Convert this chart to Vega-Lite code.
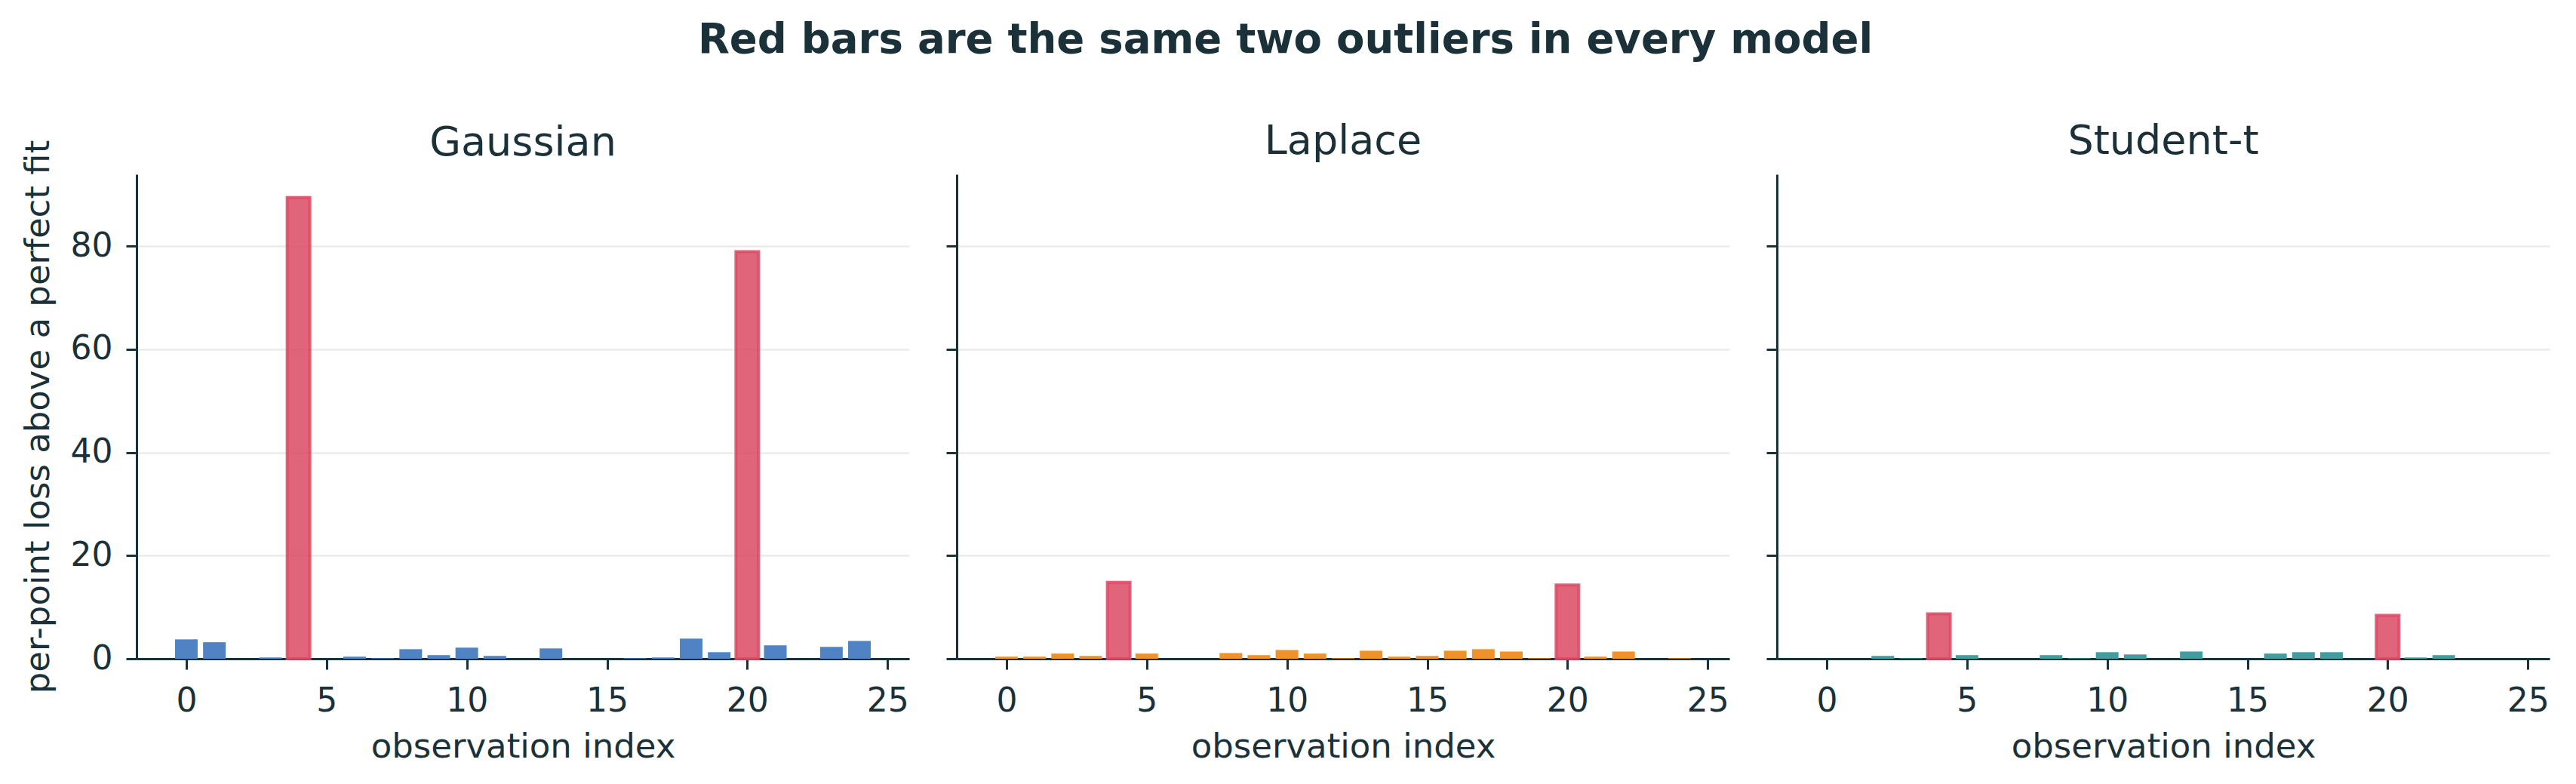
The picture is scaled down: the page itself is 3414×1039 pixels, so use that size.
{
  "$schema": "https://vega.github.io/schema/vega-lite/v6.json",
  "background": "white",
  "padding": {"left": 28, "top": 25, "right": 10, "bottom": 20},
  "bounds": "flush",
  "spacing": 63,
  "title": {
    "text": "Red bars are the same two outliers in every model",
    "font": "DejaVu Sans",
    "fontSize": 54.5,
    "fontWeight": "bold",
    "color": "#1b3139",
    "anchor": "middle",
    "offset": 80
  },
  "data": {
    "values": [
      {"model": "Gaussian", "idx": 0, "loss": 3.75, "outlier": false},
      {"model": "Gaussian", "idx": 1, "loss": 3.2, "outlier": false},
      {"model": "Gaussian", "idx": 2, "loss": 0, "outlier": false},
      {"model": "Gaussian", "idx": 3, "loss": 0.25, "outlier": false},
      {"model": "Gaussian", "idx": 4, "loss": 89.4, "outlier": true},
      {"model": "Gaussian", "idx": 5, "loss": 0, "outlier": false},
      {"model": "Gaussian", "idx": 6, "loss": 0.4, "outlier": false},
      {"model": "Gaussian", "idx": 7, "loss": 0.1, "outlier": false},
      {"model": "Gaussian", "idx": 8, "loss": 1.85, "outlier": false},
      {"model": "Gaussian", "idx": 9, "loss": 0.7, "outlier": false},
      {"model": "Gaussian", "idx": 10, "loss": 2.15, "outlier": false},
      {"model": "Gaussian", "idx": 11, "loss": 0.55, "outlier": false},
      {"model": "Gaussian", "idx": 12, "loss": 0, "outlier": false},
      {"model": "Gaussian", "idx": 13, "loss": 2.0, "outlier": false},
      {"model": "Gaussian", "idx": 14, "loss": 0, "outlier": false},
      {"model": "Gaussian", "idx": 15, "loss": 0, "outlier": false},
      {"model": "Gaussian", "idx": 16, "loss": 0.1, "outlier": false},
      {"model": "Gaussian", "idx": 17, "loss": 0.25, "outlier": false},
      {"model": "Gaussian", "idx": 18, "loss": 3.9, "outlier": false},
      {"model": "Gaussian", "idx": 19, "loss": 1.27, "outlier": false},
      {"model": "Gaussian", "idx": 20, "loss": 78.9, "outlier": true},
      {"model": "Gaussian", "idx": 21, "loss": 2.6, "outlier": false},
      {"model": "Gaussian", "idx": 22, "loss": 0, "outlier": false},
      {"model": "Gaussian", "idx": 23, "loss": 2.3, "outlier": false},
      {"model": "Gaussian", "idx": 24, "loss": 3.45, "outlier": false},
      {"model": "Laplace", "idx": 0, "loss": 0.4, "outlier": false},
      {"model": "Laplace", "idx": 1, "loss": 0.4, "outlier": false},
      {"model": "Laplace", "idx": 2, "loss": 1.0, "outlier": false},
      {"model": "Laplace", "idx": 3, "loss": 0.55, "outlier": false},
      {"model": "Laplace", "idx": 4, "loss": 14.8, "outlier": true},
      {"model": "Laplace", "idx": 5, "loss": 1.0, "outlier": false},
      {"model": "Laplace", "idx": 6, "loss": 0, "outlier": false},
      {"model": "Laplace", "idx": 7, "loss": 0, "outlier": false},
      {"model": "Laplace", "idx": 8, "loss": 1.1, "outlier": false},
      {"model": "Laplace", "idx": 9, "loss": 0.7, "outlier": false},
      {"model": "Laplace", "idx": 10, "loss": 1.7, "outlier": false},
      {"model": "Laplace", "idx": 11, "loss": 1.0, "outlier": false},
      {"model": "Laplace", "idx": 12, "loss": 0.1, "outlier": false},
      {"model": "Laplace", "idx": 13, "loss": 1.55, "outlier": false},
      {"model": "Laplace", "idx": 14, "loss": 0.4, "outlier": false},
      {"model": "Laplace", "idx": 15, "loss": 0.55, "outlier": false},
      {"model": "Laplace", "idx": 16, "loss": 1.55, "outlier": false},
      {"model": "Laplace", "idx": 17, "loss": 1.85, "outlier": false},
      {"model": "Laplace", "idx": 18, "loss": 1.4, "outlier": false},
      {"model": "Laplace", "idx": 19, "loss": 0.1, "outlier": false},
      {"model": "Laplace", "idx": 20, "loss": 14.3, "outlier": true},
      {"model": "Laplace", "idx": 21, "loss": 0.4, "outlier": false},
      {"model": "Laplace", "idx": 22, "loss": 1.4, "outlier": false},
      {"model": "Laplace", "idx": 23, "loss": 0, "outlier": false},
      {"model": "Laplace", "idx": 24, "loss": 0.1, "outlier": false},
      {"model": "Student-t", "idx": 0, "loss": 0, "outlier": false},
      {"model": "Student-t", "idx": 1, "loss": 0, "outlier": false},
      {"model": "Student-t", "idx": 2, "loss": 0.55, "outlier": false},
      {"model": "Student-t", "idx": 3, "loss": 0.1, "outlier": false},
      {"model": "Student-t", "idx": 4, "loss": 8.7, "outlier": true},
      {"model": "Student-t", "idx": 5, "loss": 0.7, "outlier": false},
      {"model": "Student-t", "idx": 6, "loss": 0, "outlier": false},
      {"model": "Student-t", "idx": 7, "loss": 0, "outlier": false},
      {"model": "Student-t", "idx": 8, "loss": 0.7, "outlier": false},
      {"model": "Student-t", "idx": 9, "loss": 0.1, "outlier": false},
      {"model": "Student-t", "idx": 10, "loss": 1.27, "outlier": false},
      {"model": "Student-t", "idx": 11, "loss": 0.83, "outlier": false},
      {"model": "Student-t", "idx": 12, "loss": 0, "outlier": false},
      {"model": "Student-t", "idx": 13, "loss": 1.4, "outlier": false},
      {"model": "Student-t", "idx": 14, "loss": 0, "outlier": false},
      {"model": "Student-t", "idx": 15, "loss": 0, "outlier": false},
      {"model": "Student-t", "idx": 16, "loss": 1.0, "outlier": false},
      {"model": "Student-t", "idx": 17, "loss": 1.27, "outlier": false},
      {"model": "Student-t", "idx": 18, "loss": 1.27, "outlier": false},
      {"model": "Student-t", "idx": 19, "loss": 0, "outlier": false},
      {"model": "Student-t", "idx": 20, "loss": 8.4, "outlier": true},
      {"model": "Student-t", "idx": 21, "loss": 0.25, "outlier": false},
      {"model": "Student-t", "idx": 22, "loss": 0.7, "outlier": false},
      {"model": "Student-t", "idx": 23, "loss": 0, "outlier": false},
      {"model": "Student-t", "idx": 24, "loss": 0, "outlier": false}
    ]
  },
  "config": {
    "font": "DejaVu Sans",
    "view": {"stroke": null},
    "title": {"font": "DejaVu Sans", "color": "#1b3139"},
    "axis": {
      "domainColor": "#1b3139",
      "domainWidth": 3,
      "tickColor": "#1b3139",
      "tickWidth": 3,
      "tickSize": 14,
      "labelFont": "DejaVu Sans",
      "labelFontSize": 44,
      "labelColor": "#1b3139",
      "titleFont": "DejaVu Sans",
      "titleFontSize": 45,
      "titleFontWeight": "normal",
      "titleColor": "#1b3139",
      "gridColor": "#ebebeb",
      "gridWidth": 2.5
    }
  },
  "hconcat": [
    {
      "title": {"text": "Gaussian", "fontSize": 54, "fontWeight": "normal", "baseline": "alphabetic", "offset": -75},
      "width": 1024,
      "height": 642,
      "transform": [{"filter": "datum.model === 'Gaussian'"}],
      "mark": {"type": "bar", "width": 30, "strokeOpacity": 0.85},
      "encoding": {
        "x": {"field": "idx", "type": "quantitative", "scale": {"domain": [-1.64, 25.64], "nice": false, "zero": false},
          "axis": {"values": [0, 5, 10, 15, 20, 25], "format": "d", "grid": false, "title": "observation index", "labelPadding": 20, "titlePadding": 16}},
        "y": {"field": "loss", "type": "quantitative", "scale": {"domain": [0, 93.9], "nice": false},
          "axis": {"values": [0, 20, 40, 60, 80], "grid": true, "title": "per-point loss above a perfect fit", "labelPadding": 18, "titlePadding": 20}},
        "color": {"condition": {"test": "datum.outlier", "value": "#dc4a63"}, "value": "#4f83c4"},
        "fillOpacity": {"condition": {"test": "datum.outlier", "value": 0.85}, "value": 1},
        "stroke": {"condition": {"test": "datum.outlier", "value": "#dc4a63"}, "value": null},
        "strokeWidth": {"condition": {"test": "datum.outlier", "value": 4}, "value": 0}
      }
    },
    {
      "title": {"text": "Laplace", "fontSize": 54, "fontWeight": "normal", "baseline": "alphabetic", "offset": -27},
      "width": 1024,
      "height": 642,
      "transform": [{"filter": "datum.model === 'Laplace'"}],
      "mark": {"type": "bar", "width": 30, "strokeOpacity": 0.85},
      "encoding": {
        "x": {"field": "idx", "type": "quantitative", "scale": {"domain": [-1.64, 25.64], "nice": false, "zero": false},
          "axis": {"values": [0, 5, 10, 15, 20, 25], "format": "d", "grid": false, "title": "observation index", "labelPadding": 20, "titlePadding": 16}},
        "y": {"field": "loss", "type": "quantitative", "scale": {"domain": [0, 93.9], "nice": false},
          "axis": {"values": [0, 20, 40, 60, 80], "grid": true, "labels": false, "title": null}},
        "color": {"condition": {"test": "datum.outlier", "value": "#dc4a63"}, "value": "#f0922a"},
        "fillOpacity": {"condition": {"test": "datum.outlier", "value": 0.85}, "value": 1},
        "stroke": {"condition": {"test": "datum.outlier", "value": "#dc4a63"}, "value": null},
        "strokeWidth": {"condition": {"test": "datum.outlier", "value": 4}, "value": 0}
      }
    },
    {
      "title": {"text": "Student-t", "fontSize": 54, "fontWeight": "normal", "baseline": "alphabetic", "offset": -27},
      "width": 1024,
      "height": 642,
      "transform": [{"filter": "datum.model === 'Student-t'"}],
      "mark": {"type": "bar", "width": 30, "strokeOpacity": 0.85},
      "encoding": {
        "x": {"field": "idx", "type": "quantitative", "scale": {"domain": [-1.64, 25.64], "nice": false, "zero": false},
          "axis": {"values": [0, 5, 10, 15, 20, 25], "format": "d", "grid": false, "title": "observation index", "labelPadding": 20, "titlePadding": 16}},
        "y": {"field": "loss", "type": "quantitative", "scale": {"domain": [0, 93.9], "nice": false},
          "axis": {"values": [0, 20, 40, 60, 80], "grid": true, "labels": false, "title": null}},
        "color": {"condition": {"test": "datum.outlier", "value": "#dc4a63"}, "value": "#459c9e"},
        "fillOpacity": {"condition": {"test": "datum.outlier", "value": 0.85}, "value": 1},
        "stroke": {"condition": {"test": "datum.outlier", "value": "#dc4a63"}, "value": null},
        "strokeWidth": {"condition": {"test": "datum.outlier", "value": 4}, "value": 0}
      }
    }
  ]
}
